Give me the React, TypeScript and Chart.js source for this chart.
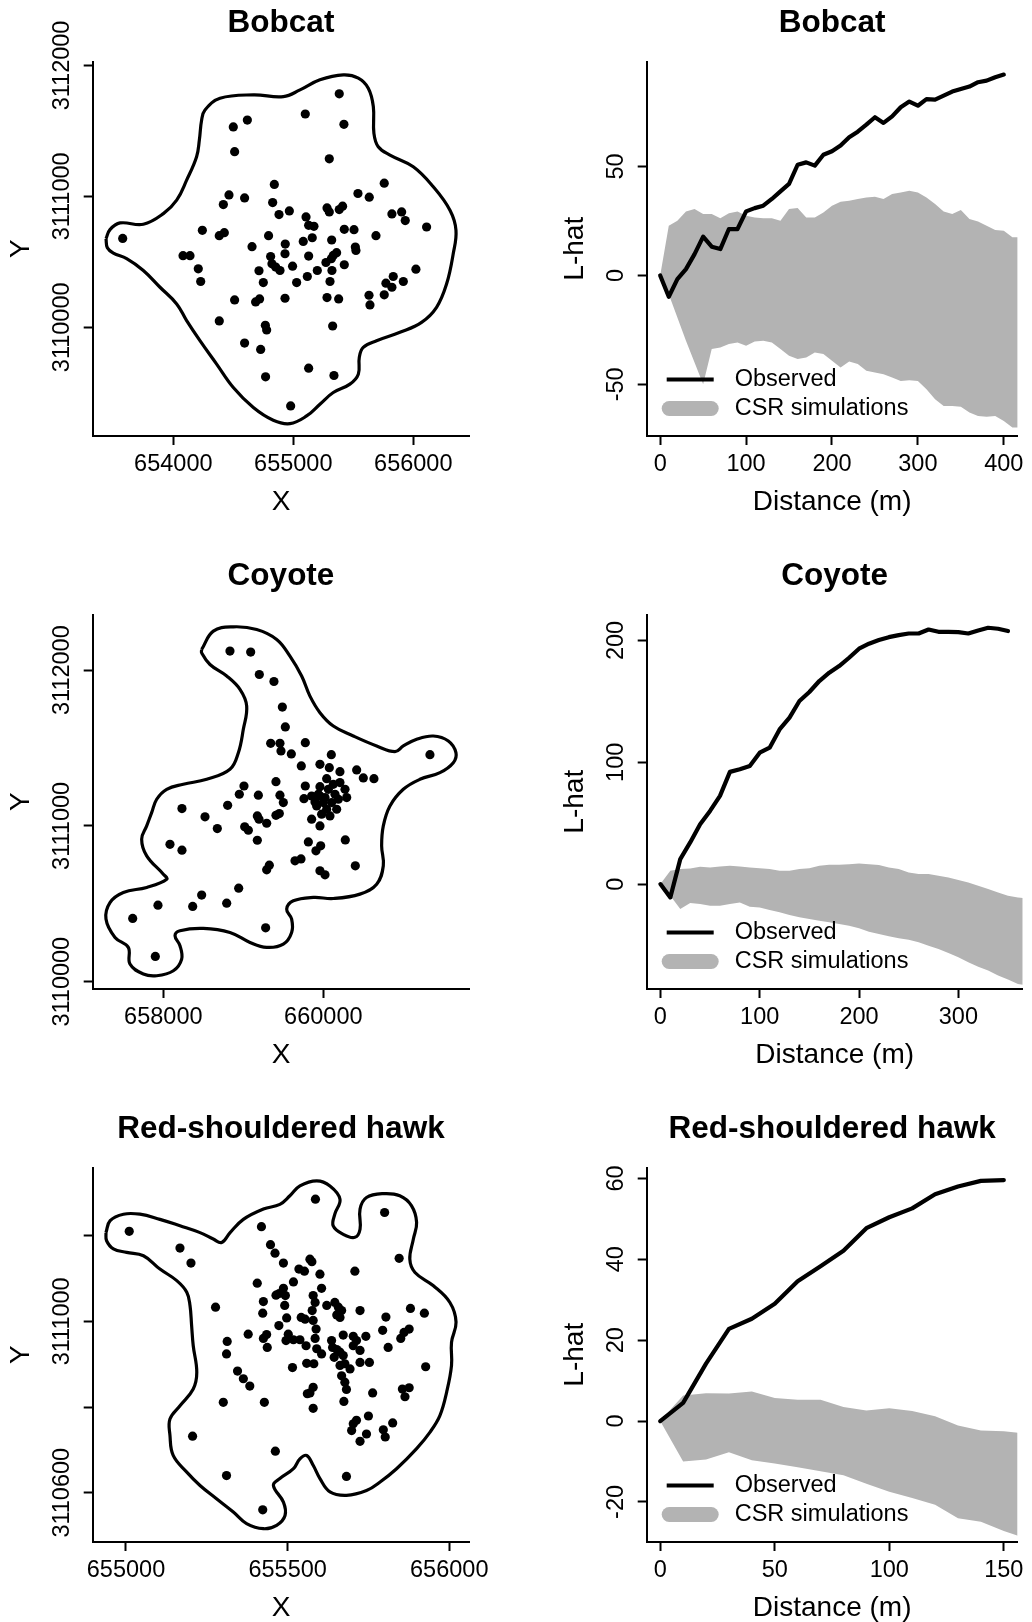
import React, { useEffect, useRef } from 'react';
import { Chart, registerables } from 'chart.js';

Chart.register(...registerables);

const FONT = '"Liberation Sans", Arial, Helvetica, sans-serif';
const INK = '#000000';
const BAND = '#b3b3b3';
const LEGEND_LABELS = ['Observed', 'CSR simulations'];

// ---------------- Bobcat ----------------
const bobcatXTicks = [654000, 655000, 656000];
const bobcatYTicks = [3110000, 3111000, 3112000];
const bobcatPoints = [
  [653578,3110679],[655383,3111783],[655100,3111629],[655422,3111550],[654617,3111583],[654500,3111530],
  [654511,3111341],[655300,3111287],[654842,3111091],[655758,3111101],[654464,3111011],[654594,3110988],
  [655539,3111022],[655633,3110994],[654417,3110937],[654828,3110953],[654967,3110889],[654881,3110861],
  [655281,3110912],[655300,3110881],[655383,3110899],[655411,3110925],[655822,3110866],[655903,3110881],
  [655933,3110815],[656111,3110766],[655106,3110843],[655128,3110779],[655172,3110771],[654242,3110741],
  [654383,3110700],[654425,3110723],[654794,3110700],[655158,3110684],[655083,3110656],[654933,3110636],
  [655320,3110667],[655425,3110748],[655506,3110746],[655689,3110700],[654656,3110616],[655517,3110613],
  [655522,3110587],[654081,3110547],[654139,3110547],[654931,3110562],[654811,3110541],[655128,3110544],
  [655333,3110549],[655361,3110570],[655317,3110524],[654822,3110485],[654853,3110460],[654889,3110434],
  [654994,3110467],[655272,3110495],[655425,3110478],[654208,3110447],[654714,3110432],[655200,3110434],
  [655322,3110434],[656022,3110444],[654228,3110350],[654750,3110342],[655028,3110342],[655117,3110388],
  [655306,3110350],[655833,3110388],[655772,3110337],[655822,3110306],[655917,3110350],[654511,3110209],
  [654686,3110194],[654719,3110217],[654931,3110222],[655281,3110227],[655378,3110217],[655631,3110245],
  [655639,3110171],[655758,3110248],[654383,3110049],[655328,3110010],[654767,3110015],[654778,3109980],
  [654594,3109880],[654728,3109831],[655128,3109688],[655339,3109632],[654769,3109622],[654978,3109400],
];
const bobcatHull = [
  [653439,3110677],[653472,3110746],[653556,3110797],[653750,3110787],[653917,3110868],[654028,3110971],
  [654111,3111124],[654194,3111303],[654217,3111430],[654236,3111583],[654264,3111660],[654389,3111749],
  [654667,3111775],[654917,3111762],[655056,3111813],[655222,3111890],[655417,3111928],[655542,3111903],
  [655625,3111826],[655667,3111686],[655672,3111481],[655708,3111379],[655806,3111315],[656000,3111226],
  [656167,3111073],[656306,3110894],[656356,3110741],[656333,3110562],[656278,3110332],[656194,3110153],
  [656069,3110038],[655889,3109962],[655694,3109898],[655583,3109847],[655550,3109770],[655542,3109642],
  [655472,3109566],[655333,3109502],[655222,3109413],[655111,3109323],[654972,3109264],[654833,3109290],
  [654667,3109387],[654500,3109540],[654361,3109719],[654222,3109898],[654111,3110051],[654028,3110179],
  [653889,3110306],[653750,3110434],[653611,3110524],[653500,3110567],[653450,3110608],[653439,3110677],
];
const bobcatDistTicks = [0, 100, 200, 300, 400];
const bobcatLTicks = [-50, 0, 50];
const bobcatObsDist = [0,10,20,30,40,50,60,70,80,90,100,110,120,130,140,150,160,170,180,190,200,210,220,230,240,250,260,270,280,290,300,310,320,330,340,350,360,370,380,390,400];
const bobcatObserved = [0,-9.8,-1.7,2.9,9.8,17.8,13.2,12.1,21.3,21.3,29.4,30.9,32.0,35.1,38.6,42.0,50.8,51.9,50.4,55.4,57.0,59.6,63.4,66.0,69.2,72.6,70.0,73.0,77.2,79.8,77.9,80.9,80.7,82.5,84.4,85.6,86.7,88.7,89.4,91.0,92.2];
const bobcatSimDist = [0,10,20,30,40,50,60,70,80,90,100,110,120,130,140,150,160,170,180,190,200,210,220,230,240,250,260,270,280,290,300,310,320,330,340,350,360,370,380,390,400,410,420];
const bobcatSimHi = [0,22.8,25.1,29.4,30.5,28.2,28.2,26.3,28.5,29.4,27.4,26.6,26.3,26.3,25.1,30.5,30.9,26.6,26.6,28.9,32.0,33.8,34.3,35.1,35.8,36.1,35.1,37.4,38.1,38.9,38.1,35.8,32.8,29.4,28.2,30.0,25.9,24.8,22.8,20.8,20.5,17.5,17.5];
const bobcatSimLo = [0,-8.6,-19.3,-30.0,-40.0,-50.0,-33.8,-33.1,-31.5,-30.8,-32.3,-30.3,-30.0,-30.8,-33.8,-36.9,-38.4,-37.7,-35.4,-36.1,-39.2,-42.3,-39.5,-40.7,-43.8,-44.6,-45.3,-46.9,-48.4,-48.1,-48.4,-52.2,-56.8,-59.9,-59.9,-60.3,-62.9,-64.5,-64.9,-64.5,-66.8,-69.8,-69.8];

// ---------------- Coyote ----------------
const coyoteXTicks = [658000, 660000];
const coyoteYTicks = [3110000, 3111000, 3112000];
const coyotePoints = [
  [658833,3112122],[659092,3112116],[659200,3111972],[659383,3111927],[659488,3111763],[659525,3111635],
  [659342,3111530],[659458,3111530],[659471,3111481],[659600,3111462],[659775,3111534],[660100,3111457],
  [659725,3111385],[659958,3111395],[660075,3111374],[660208,3111348],[660417,3111359],[660500,3111308],
  [660633,3111303],[661333,3111457],[659408,3111284],[659008,3111256],[658950,3111203],[659188,3111197],
  [659458,3111197],[659500,3111150],[659775,3111256],[660042,3111303],[659958,3111252],[660125,3111267],
  [660271,3111235],[660292,3111182],[659758,3111175],[659854,3111192],[659938,3111203],[660000,3111150],
  [660042,3111107],[660146,3111203],[660167,3111107],[659917,3111128],[659979,3111075],[659854,3111043],
  [659958,3111000],[658233,3111111],[658804,3111132],[658521,3111058],[658675,3110983],[659175,3111064],
  [659196,3111043],[659292,3111017],[659408,3111068],[659450,3111079],[659017,3110994],[659063,3110972],
  [659175,3110908],[658083,3110882],[658233,3110844],[659813,3110897],[659967,3110872],[659908,3110840],
  [660275,3110910],[659646,3110776],[659721,3110788],[659325,3110748],[659292,3110718],[659958,3110712],
  [660021,3110686],[660400,3110744],[658942,3110600],[658479,3110556],[657933,3110491],[658367,3110483],
  [658792,3110504],[657617,3110406],[659279,3110346],[657900,3110162],[660063,3111235],[660104,3111150],
  [659896,3111154],[660021,3111182],[660188,3111171],[660083,3111064],[660208,3111278],[659958,3111192],
];
const coyoteHull = [
  [658479,3112133],[658625,3112250],[658875,3112278],[659167,3112261],[659417,3112197],[659583,3112090],
  [659729,3111962],[659833,3111833],[659958,3111727],[660125,3111641],[660375,3111577],[660667,3111513],
  [660896,3111477],[661000,3111513],[661167,3111556],[661375,3111577],[661563,3111545],[661658,3111470],
  [661625,3111406],[661458,3111342],[661208,3111299],[661000,3111235],[660833,3111128],[660750,3111000],
  [660729,3110872],[660750,3110744],[660667,3110626],[660458,3110562],[660125,3110534],[659875,3110541],
  [659625,3110519],[659542,3110466],[659604,3110402],[659604,3110316],[659500,3110241],[659292,3110220],
  [659083,3110252],[658833,3110316],[658500,3110342],[658208,3110327],[658146,3110295],[658208,3110231],
  [658229,3110145],[658125,3110070],[657917,3110038],[657750,3110049],[657583,3110113],[657562,3110220],
  [657396,3110284],[657283,3110402],[657333,3110508],[657500,3110573],[657792,3110605],[658042,3110658],
  [658000,3110690],[657792,3110808],[657729,3110915],[657792,3111000],[657854,3111085],[657917,3111171],
  [658042,3111235],[658250,3111267],[658542,3111299],[658833,3111363],[658938,3111470],[659000,3111620],
  [659042,3111769],[658958,3111876],[658792,3111962],[658583,3112036],[658479,3112111],[658479,3112133],
];
const coyoteDistTicks = [0, 100, 200, 300];
const coyoteLTicks = [0, 100, 200];
const coyoteObsDist = [0,10,20,30,40,50,60,70,80,90,100,110,120,130,140,150,160,170,180,190,200,210,220,230,240,250,260,270,280,290,300,310,320,330,340,350];
const coyoteObserved = [0,-10.9,20.5,34.2,49.2,60.1,72.4,92.1,94.3,97.0,107.9,112.0,127.0,136.6,150.3,157.7,166.7,173.5,179.0,185.8,193.2,197.3,200.3,202.7,204.4,205.7,205.7,209.0,207.1,207.1,206.8,205.7,208.2,210.4,209.6,207.7];
const coyoteSimDist = [0,10,20,30,40,50,60,70,80,90,100,110,120,130,140,150,160,170,180,190,200,210,220,230,240,250,260,270,280,290,300,310,320,330,340,350,360,370];
const coyoteSimHi = [0,10.9,12.3,12.8,14.2,13.7,14.5,15.0,14.5,13.7,13.1,12.3,10.9,10.9,12.3,13.1,15.0,15.8,15.8,16.4,16.9,16.4,15.6,13.7,12.3,9.6,8.2,8.2,6.8,5.5,3.3,1.4,-1.4,-4.1,-6.8,-9.6,-10.9,-11.7];
const coyoteSimLo = [0,-9.6,-20.5,-15.6,-16.4,-17.8,-17.8,-16.4,-15.0,-18.6,-19.1,-21.3,-23.2,-25.4,-27.3,-28.7,-30.1,-31.4,-32.8,-34.2,-36.3,-39.1,-41.0,-42.9,-44.5,-45.6,-47.8,-50.5,-53.3,-56.6,-60.1,-64.2,-67.8,-71.0,-75.1,-78.4,-82.0,-83.3];

// ---------------- Red-shouldered hawk ----------------
const hawkXTicks = [655000, 655500, 656000];
const hawkYTicks = [3110600, 3110800, 3111000, 3111200];
const hawkYLabels = ['3110600', '', '3111000', ''];
const hawkPoints = [
  [655010,3111210],[655167,3111171],[655201,3111136],[655586,3111285],[655800,3111254],[655419,3111221],
  [655447,3111179],[655461,3111159],[655487,3111136],[655569,3111145],[655575,3111139],[655535,3111122],
  [655552,3111117],[655600,3111110],[655708,3111117],[655845,3111147],[655406,3111089],[655518,3111092],
  [655487,3111077],[655474,3111065],[655464,3111061],[655493,3111060],[655605,3111077],[655579,3111060],
  [655585,3111044],[655621,3111037],[655646,3111044],[655657,3111033],[655667,3111025],[655425,3111046],
  [655491,3111037],[655277,3111033],[655724,3111025],[655880,3111030],[655923,3111019],[655804,3111010],
  [655423,3111019],[655497,3111008],[655542,3111009],[655554,3111005],[655576,3111025],[655652,3111015],
  [655662,3111009],[655473,3110990],[655579,3111002],[655588,3110982],[655794,3110979],[655876,3110982],
  [655860,3110974],[655850,3110960],[655378,3110970],[655313,3110953],[655435,3110969],[655425,3110960],
  [655502,3110970],[655495,3110955],[655518,3110957],[655538,3110957],[655557,3110943],[655585,3110960],
  [655636,3110955],[655672,3110968],[655703,3110965],[655713,3110955],[655742,3110965],[655311,3110924],
  [655437,3110939],[655590,3110936],[655605,3110924],[655639,3110939],[655652,3110934],[655662,3110928],
  [655644,3110916],[655672,3110920],[655703,3110943],[655724,3110932],[655811,3110939],[655677,3110901],
  [655662,3110897],[655693,3110889],[655724,3110904],[655753,3110904],[655515,3110892],[655559,3110902],
  [655581,3110901],[655345,3110884],[655363,3110866],[655383,3110849],[655667,3110873],[655677,3110858],
  [655682,3110841],[655927,3110894],[655579,3110846],[655569,3110833],[655561,3110831],[655763,3110833],
  [655855,3110842],[655876,3110845],[655863,3110824],[655301,3110811],[655428,3110811],[655674,3110813],
  [655579,3110797],[655750,3110779],[655713,3110769],[655703,3110761],[655698,3110745],[655825,3110763],
  [655796,3110747],[655802,3110730],[655744,3110737],[655724,3110720],[655206,3110732],[655462,3110697],
  [655311,3110640],[655682,3110638],[655423,3110560],
];
const hawkHull = [
  [654938,3111207],[654951,3111235],[654992,3111250],[655043,3111250],[655105,3111238],[655167,3111223],
  [655229,3111207],[655270,3111192],[655296,3111184],[655322,3111207],[655363,3111238],[655425,3111262],
  [655476,3111273],[655507,3111293],[655538,3111316],[655590,3111328],[655631,3111316],[655662,3111285],
  [655646,3111250],[655641,3111223],[655672,3111203],[655708,3111196],[655724,3111215],[655724,3111262],
  [655744,3111289],[655796,3111298],[655847,3111293],[655883,3111270],[655899,3111231],[655889,3111192],
  [655878,3111145],[655894,3111114],[655951,3111083],[656002,3111044],[656021,3110998],[656007,3110951],
  [656007,3110897],[655992,3110835],[655971,3110780],[655940,3110741],[655899,3110703],[655837,3110656],
  [655786,3110625],[655744,3110605],[655682,3110594],[655631,3110602],[655600,3110633],[655579,3110664],
  [655559,3110687],[655538,3110679],[655518,3110656],[655476,3110633],[655456,3110617],[655487,3110578],
  [655492,3110547],[655466,3110524],[655425,3110516],[655373,3110528],[655332,3110555],[655280,3110586],
  [655229,3110617],[655188,3110648],[655146,3110687],[655136,3110734],[655136,3110772],[655167,3110803],
  [655208,3110842],[655219,3110881],[655208,3110943],[655203,3110990],[655198,3111037],[655188,3111068],
  [655157,3111095],[655105,3111122],[655054,3111153],[655002,3111161],[654961,3111169],[654940,3111188],
  [654938,3111207],
];
const hawkDistTicks = [0, 50, 100, 150];
const hawkLTicks = [-20, 0, 20, 40, 60];
const hawkObsDist = [0,10,20,30,40,50,60,70,80,90,100,110,120,130,140,150];
const hawkObserved = [0,4.5,14.2,22.8,25.3,29.0,34.6,38.3,42.1,47.7,50.4,52.6,56.1,58.0,59.4,59.6];
const hawkSimDist = [0,10,20,30,40,50,60,70,80,90,100,110,120,130,140,150,160];
const hawkSimHi = [0,6.3,6.9,6.8,7.3,5.7,5.3,5.3,3.5,2.6,3.2,2.5,1.2,-1.1,-2.3,-2.5,-3.1];
const hawkSimLo = [0,-10.0,-9.5,-7.7,-9.7,-10.5,-11.4,-12.4,-13.4,-15.5,-17.5,-19.0,-20.7,-24.0,-24.9,-27.2,-29.1];

// ---------------- helpers ----------------
const toXY = (pts: number[][]) => pts.map(([x, y]) => ({ x, y }));
const zipXY = (xs: number[], ys: number[]) => xs.map((x, i) => ({ x, y: ys[i] }));

function axis(pos: string, min: number, max: number, ticks: number[], labels: string[] | null, title: string) {
  const isX = pos === 'bottom';
  return {
    type: 'linear',
    position: pos,
    min,
    max,
    afterBuildTicks: (s: any) => {
      s.ticks = ticks.map((v) => ({ value: v }));
    },
    afterFit: (s: any) => {
      if (isX) s.height = 80;
      else s.width = 85;
    },
    ticks: {
      display: isX,
      autoSkip: false,
      maxRotation: 0,
      minRotation: 0,
      padding: 8.25,
      color: INK,
      font: { family: FONT, size: 23.5, lineHeight: 1 },
      callback: (v: any, i: number) => (labels ? labels[i] : String(v)),
    },
    grid: { display: true, drawOnChartArea: false, drawTicks: true, tickLength: 9, tickWidth: 2, tickColor: INK },
    border: { display: true, color: INK, width: 2 },
    title: { display: true, text: title, color: INK, font: { family: FONT, size: 28, lineHeight: 1 }, padding: 0 },
  };
}

function decor(title: string, withLegend: boolean) {
  return {
    id: 'decor',
    afterDraw(chart: any) {
      const { ctx, chartArea: a } = chart;
      const ys = chart.scales.y;
      ctx.save();
      ctx.fillStyle = INK;
      ctx.textAlign = 'center';
      ctx.textBaseline = 'middle';
      ctx.font = `bold 31.5px ${FONT}`;
      ctx.fillText(title, (a.left + a.right) / 2, a.top - 38);
      ctx.font = `23.5px ${FONT}`;
      for (const t of ys.ticks) {
        if (!t.label) continue;
        const py = ys.getPixelForValue(t.value);
        ctx.save();
        ctx.translate(a.left - 30, py);
        ctx.rotate(-Math.PI / 2);
        ctx.fillText(String(t.label), 0, 0);
        ctx.restore();
      }
      if (withLegend) {
        const y1 = a.bottom - 56.5;
        const y2 = a.bottom - 27.5;
        ctx.lineCap = 'butt';
        ctx.strokeStyle = INK;
        ctx.lineWidth = 4;
        ctx.beginPath();
        ctx.moveTo(a.left + 20, y1);
        ctx.lineTo(a.left + 67, y1);
        ctx.stroke();
        ctx.lineCap = 'round';
        ctx.strokeStyle = BAND;
        ctx.lineWidth = 15;
        ctx.beginPath();
        ctx.moveTo(a.left + 22.5, y2);
        ctx.lineTo(a.left + 64.5, y2);
        ctx.stroke();
        ctx.textAlign = 'left';
        ctx.fillText(LEGEND_LABELS[0], a.left + 88, y1);
        ctx.fillText(LEGEND_LABELS[1], a.left + 88, y2);
      }
      ctx.restore();
    },
  };
}

function baseOptions(pad: any, x: any, y: any) {
  return {
    responsive: false,
    animation: false,
    devicePixelRatio: 1,
    events: [],
    layout: { autoPadding: false, padding: pad },
    plugins: { legend: { display: false }, tooltip: { enabled: false }, title: { display: false } },
    scales: { x, y },
  };
}

function mapConfig(title: string, pts: number[][], hull: number[][], xr: number[], yr: number[], xt: number[], yt: number[], yl: string[] | null, pad: any) {
  return {
    type: 'line',
    data: {
      datasets: [
        { data: toXY(pts), showLine: false, pointRadius: 4.6, pointBackgroundColor: INK, pointBorderWidth: 0, borderWidth: 0 },
        { data: toXY(hull), showLine: true, borderColor: INK, borderWidth: 3.2, pointRadius: 0, tension: 0.4, fill: false },
      ],
    },
    options: baseOptions(pad, axis('bottom', xr[0], xr[1], xt, null, 'X'), axis('left', yr[0], yr[1], yt, yl, 'Y')),
    plugins: [decor(title, false)],
  };
}

function lhatConfig(title: string, od: number[], obs: number[], sd: number[], hi: number[], lo: number[], xr: number[], yr: number[], xt: number[], yt: number[], pad: any) {
  return {
    type: 'line',
    data: {
      datasets: [
        { data: zipXY(od, obs), borderColor: INK, borderWidth: 4.2, pointRadius: 0, tension: 0, fill: false, borderJoinStyle: 'round', borderCapStyle: 'round' },
        { data: zipXY(sd, hi), borderColor: 'rgba(0,0,0,0)', borderWidth: 0, backgroundColor: BAND, pointRadius: 0, tension: 0, fill: '+1' },
        { data: zipXY(sd, lo), borderColor: 'rgba(0,0,0,0)', borderWidth: 0, pointRadius: 0, tension: 0, fill: false },
      ],
    },
    options: baseOptions(pad, axis('bottom', xr[0], xr[1], xt, null, 'Distance (m)'), axis('left', yr[0], yr[1], yt, null, 'L-hat')),
    plugins: [decor(title, true)],
  };
}

const W = 516;
const padLeftCol = (h: number) => ({ left: 7.7, right: 46.7, top: 61.5, bottom: h - 436 - 80 });
const padRightCol = (h: number) => ({ left: 45.7, right: 9.3, top: 61.5, bottom: h - 436 - 80 });

const PANELS = [
  { left: 0, top: 0, h: 553, make: () => mapConfig('Bobcat', bobcatPoints, bobcatHull, [653328, 656467], [3109170, 3112030], bobcatXTicks, bobcatYTicks, null, padLeftCol(553)) },
  { left: 516, top: 0, h: 553, make: () => lhatConfig('Bobcat', bobcatObsDist, bobcatObserved, bobcatSimDist, bobcatSimHi, bobcatSimLo, [-15.7, 416.1], [-73.7, 98.2], bobcatDistTicks, bobcatLTicks, padRightCol(553)) },
  { left: 0, top: 553, h: 553, make: () => mapConfig('Coyote', coyotePoints, coyoteHull, [657117, 661825], [3109953, 3112357], coyoteXTicks, coyoteYTicks, null, padLeftCol(553)) },
  { left: 516, top: 553, h: 553, make: () => lhatConfig('Coyote', coyoteObsDist, coyoteObserved, coyoteSimDist, coyoteSimHi, coyoteSimLo, [-13.8, 364.8], [-86.1, 221.3], coyoteDistTicks, coyoteLTicks, padRightCol(553)) },
  { left: 0, top: 1106, h: 516, make: () => mapConfig('Red-shouldered hawk', hawkPoints, hawkHull, [654897, 656062], [3110485, 3111359], hawkXTicks, hawkYTicks, hawkYLabels, padLeftCol(516)) },
  { left: 516, top: 1106, h: 516, make: () => lhatConfig('Red-shouldered hawk', hawkObsDist, hawkObserved, hawkSimDist, hawkSimHi, hawkSimLo, [-5.9, 156.0], [-29.9, 62.7], hawkDistTicks, hawkLTicks, padRightCol(516)) },
];

function Panel({ left, top, h, make }: any) {
  const ref = useRef<HTMLCanvasElement>(null);
  useEffect(() => {
    const chart = new Chart(ref.current as HTMLCanvasElement, make() as any);
    return () => chart.destroy();
  }, []);
  return (
    <canvas
      ref={ref}
      width={W}
      height={h}
      style={{ position: 'absolute', left, top, width: W, height: h, display: 'block' }}
    />
  );
}

export default function App() {
  return (
    <div style={{ position: 'absolute', left: 0, top: 0, width: 1032, height: 1622, background: '#ffffff', overflow: 'hidden' }}>
      {PANELS.map((p, i) => (
        <Panel key={i} {...p} />
      ))}
    </div>
  );
}
